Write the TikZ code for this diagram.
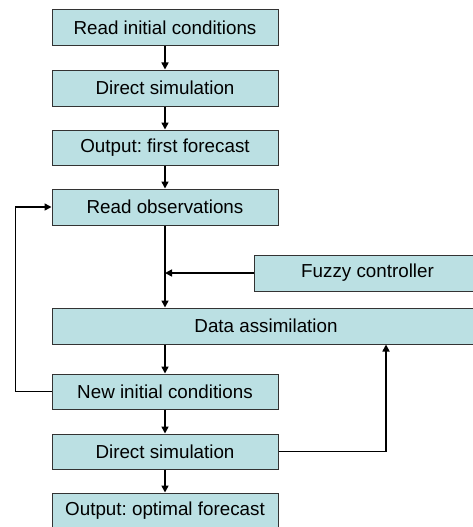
\documentclass[tikz,border=0pt]{standalone}
\usepackage{fontspec}
\setmainfont{Liberation Sans}
\usetikzlibrary{arrows.meta}
\definecolor{boxfill}{HTML}{BBE0E3}
\definecolor{boxline}{HTML}{333333}
\frenchspacing
\tikzset{
  flowbox/.style={draw=boxline, fill=boxfill, line width=1pt, minimum height=36pt, inner sep=0pt, font=\fontsize{18.8}{20}\selectfont},
  narrow/.style={flowbox, minimum width=226pt},
  wide/.style={flowbox, minimum width=428pt},
  conn/.style={line width=1.6pt, -{Triangle[length=7pt,width=7pt]}},
  plain/.style={line width=1.4pt}
}
\begin{document}
\begin{tikzpicture}[x=1pt,y=-1pt]
\useasboundingbox (0,0) rectangle (473,527);
\clip (0,0) rectangle (473,527);
\node[narrow] (b1) at (165,28) {Read initial conditions};
\node[narrow] (b2) at (165,88) {Direct simulation};
\node[narrow, minimum height=35pt] (b3) at (165,147.5) {Output: first forecast};
\node[narrow] (b4) at (165,207) {Read observations};
\node[flowbox, minimum width=227pt] (fz) at (367.5,273) {Fuzzy controller};
\node[wide] (da) at (266,326) {Data assimilation};
\node[narrow, minimum height=35pt] (ni) at (165,391.5) {New initial conditions};
\node[narrow, minimum height=35pt] (ds) at (165,451.5) {Direct simulation};
\node[narrow] (out) at (165,511) {Output: optimal forecast};
\coordinate (rt) at ([xshift=120pt]da.south);
\draw[conn] (b1) -- (b2);
\draw[conn] (b2) -- (b3);
\draw[conn] (b3) -- (b4);
\draw[conn] (b4.south) -- (b4.south |- da.north);
\draw[conn] (fz.west) -- (fz.west -| b4.south);
\draw[conn] (ni.north |- da.south) -- (ni.north);
\draw[conn] (ni) -- (ds);
\draw[conn] (ds) -- (out);
\draw[conn] (ni.west) -- ++(-36,0) |- (b4.west);
\draw[conn] (ds.east) -| (rt);
\end{tikzpicture}
\end{document}
